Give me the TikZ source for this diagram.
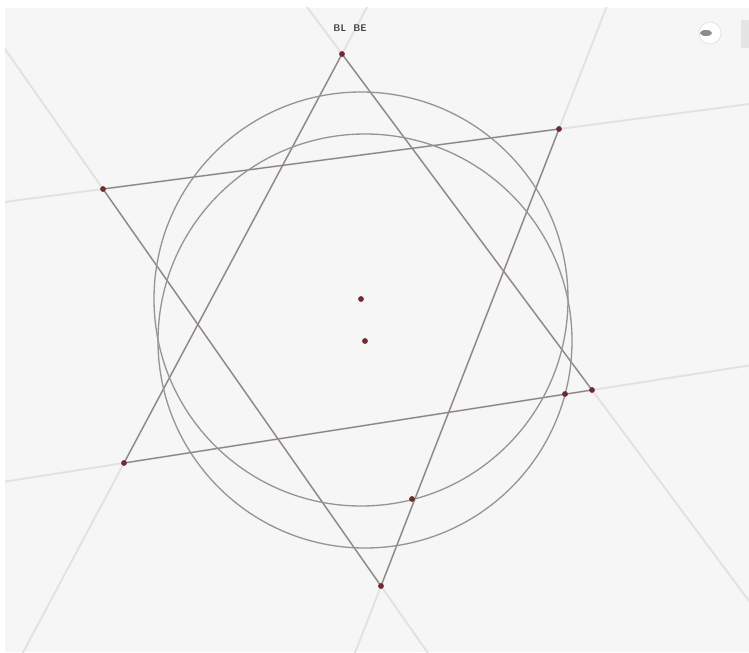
\documentclass[tikz,border=0pt]{standalone}
\usetikzlibrary{calc}
\begin{document}
\begin{tikzpicture}[x=0.02cm, y=-0.02cm, line cap=round, line join=round]
  \definecolor{canvas}{RGB}{246,246,246}
  \definecolor{segline}{RGB}{140,134,136}
  \definecolor{auxline}{RGB}{231,224,226}
  \definecolor{circline}{RGB}{150,148,150}
  \definecolor{ptred}{RGB}{110,44,48}
  \tikzset{
    aux/.style={auxline, line width=1.1pt},
    seg/.style={segline, line width=0.75pt},
    circ/.style={circline, line width=0.75pt},
    pt/.style={fill=ptred, circle, inner sep=0pt, minimum size=3.3pt}
  }
  \useasboundingbox (0,0) rectangle (749,652);
  \fill[white] (0,0) rectangle (749,652);
  \fill[canvas] (5,8) rectangle (749,652);
  % points of the figure
  \coordinate (A) at (342,54);
  \coordinate (B) at (103,189);
  \coordinate (C) at (559,129);
  \coordinate (D) at (124,463);
  \coordinate (E) at (592,390);
  \coordinate (F) at (565,394);
  \coordinate (G) at (412,499);
  \coordinate (H) at (381,586);
  \coordinate (O1) at (361,299);
  \coordinate (O2) at (365,341);
  % full lines, faint
  \begin{scope}
    \clip (5,8) rectangle (749,652);
    \draw[aux] ($(A)!-3!(D)$) -- ($(A)!4!(D)$);
    \draw[aux] ($(A)!-3!(E)$) -- ($(A)!4!(E)$);
    \draw[aux] ($(B)!-3!(C)$) -- ($(B)!4!(C)$);
    \draw[aux] ($(D)!-3!(E)$) -- ($(D)!4!(E)$);
    \draw[aux] ($(B)!-3!(H)$) -- ($(B)!4!(H)$);
    \draw[aux] ($(C)!-3!(H)$) -- ($(C)!4!(H)$);
  \end{scope}
  % segments
  \draw[seg] (A) -- (D);
  \draw[seg] (A) -- (E);
  \draw[seg] (B) -- (C);
  \draw[seg] (D) -- (E);
  \draw[seg] (B) -- (H);
  \draw[seg] (C) -- (H);
  % circles
  \draw[circ] (O1) circle (207);
  \draw[circ] (O2) circle (207);
  % dots
  \foreach \p in {A,B,C,D,E,F,G,H,O1,O2}
    \node[pt] (dot\p) at (\p) {};
  % top label and buttons
  \node[font=\fontsize{5.5}{6}\selectfont\bfseries\sffamily, text=black!75] (lbl) at (350,28) {BL\ \ BE};
  \draw[white!88!black, fill=white] (710,33) circle (11);
  \fill[black!45] (706,33) ellipse (6 and 3);
  \fill[black!10] (741,20) rectangle (749,48);
\end{tikzpicture}
\end{document}
